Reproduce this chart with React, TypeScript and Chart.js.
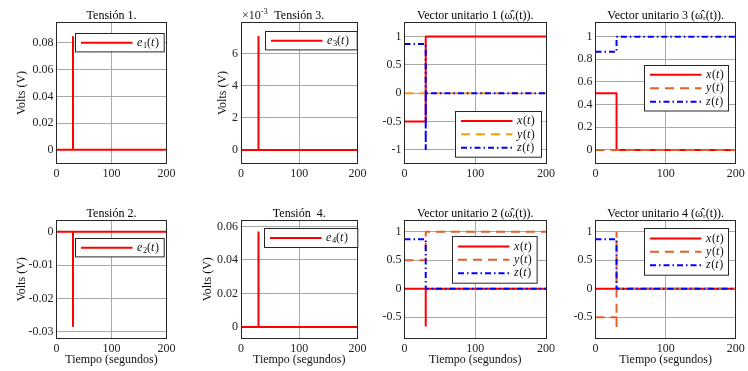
import React, { useEffect, useRef } from "react";
import { Chart, registerables } from "chart.js";

Chart.register(...registerables);

const FONT = '"Liberation Serif", "Times New Roman", serif';
const FIG_W = 748;
const FIG_H = 371;

// ---- data ----
const time = [0, 30, 30, 30, 30, 200];

const e1 = [0, 0, 0.085, 0, 0, 0];
const e2 = [0, 0, -0.0285, 0, 0, 0];
const e3 = [0, 0, 0.0071, 0, 0, 0];
const e4 = [0, 0, 0.057, 0, 0, 0];

const v1x = [-0.5, -0.5, 1, 1, 1, 1];
const v1y = [0, 0, 0, 0, 0, 0];
const v1z = [0.866, 0.866, -1, 0, 0, 0];

const v2x = [0, 0, -0.66, 0, 0, 0];
const v2y = [0.5, 0.5, 1, 1, 1, 1];
const v2z = [0.866, 0.866, 0, 0, 0, 0];

const v3x = [0.5, 0.5, 0, 0, 0, 0];
const v3y = [0, 0, 0, 0, 0, 0];
const v3z = [0.866, 0.866, 1, 1, 1, 1];

const v4x = [0, 0, 0, 0, 0, 0];
const v4y = [-0.5, -0.5, -0.67, 1, 0, 0];
const v4z = [0.866, 0.866, 0, 0, 0, 0];

const titles = [
  "Tensión 1.",
  "Tensión 3.",
  "Vector unitario 1 (\u03C9\u0302\u1D63(t)).",
  "Vector unitario 3 (\u03C9\u0302\u1D63(t)).",
  "Tensión 2.",
  "Tensión  4.",
  "Vector unitario 2 (\u03C9\u0302\u1D63(t)).",
  "Vector unitario 4 (\u03C9\u0302\u1D63(t)).",
];

const yMins = [-0.0102, -0.00085, -1.24, -0.12, -0.032, -0.0068, -0.872, -0.872];
const yMaxs = [0.0952, 0.00795, 1.245, 1.125, 0.0035, 0.0638, 1.204, 1.204];
const ySteps = [0.02, 0.002, 0.5, 0.2, 0.01, 0.02, 0.5, 0.5];

const xMin = 0;
const xMax = 200;
const xStep = 100;

const yLabel = "Volts (V)";
const xLabel = "Tiempo (segundos)";

// ---- styles ----
const RED = "#FF0000";
const ORANGE_LIGHT = "#FF9A10";
const ORANGE_DARK = "#E2602A";
const BLUE = "#0000FF";
const DASH = [9, 6];
const DASHDOT = [6, 3, 1.5, 3];

type Seg = { t: string; i?: boolean; sub?: boolean };
const sym = (s: string, sub?: string): Seg[] => {
  const out: Seg[] = [{ t: s, i: true }];
  if (sub) out.push({ t: sub, sub: true });
  out.push({ t: "(" }, { t: "t", i: true }, { t: ")" });
  return out;
};

type Series = { segs: Seg[]; data: number[]; color: string; dash: number[]; order: number };

const colL = [56.5, 241, 404.5, 595.5];
const colR = [166.5, 357.5, 546, 737];
const rowT = [22.5, 220];
const rowB = [163.5, 338.5];

type PanelCfg = {
  title: string;
  col: number;
  row: number;
  yMin: number;
  yMax: number;
  yStep: number;
  wy: number;
  hx: number;
  yTitle: boolean;
  xTitle: boolean;
  exponent: boolean;
  series: Series[];
  legend: { dx: number; dy: number; w: number; h: number };
};

const vec = (x: number[], y: number[], z: number[], yColor: string): Series[] => [
  { segs: sym("x"), data: x, color: RED, dash: [], order: 3 },
  { segs: sym("y"), data: y, color: yColor, dash: DASH, order: 2 },
  { segs: sym("z"), data: z, color: BLUE, dash: DASHDOT, order: 1 },
];
const single = (d: number[], k: string): Series[] => [
  { segs: sym("e", k), data: d, color: RED, dash: [], order: 1 },
];

const panels: PanelCfg[] = [
  { title: titles[0], col: 0, row: 0, yMin: yMins[0], yMax: yMaxs[0], yStep: ySteps[0], wy: 42, hx: 20, yTitle: true, xTitle: false, exponent: false, series: single(e1, "1"), legend: { dx: 18.8, dy: 10.8, w: 88.7, h: 18.4 } },
  { title: titles[1], col: 1, row: 0, yMin: yMins[1], yMax: yMaxs[1], yStep: ySteps[1], wy: 24.9, hx: 20, yTitle: true, xTitle: false, exponent: true, series: single(e3, "3"), legend: { dx: 24, dy: 9.2, w: 91.7, h: 18.4 } },
  { title: titles[2], col: 2, row: 0, yMin: yMins[2], yMax: yMaxs[2], yStep: ySteps[2], wy: 30, hx: 20, yTitle: false, xTitle: false, exponent: false, series: vec(v1x, v1y, v1z, ORANGE_LIGHT), legend: { dx: 50.8, dy: 88.5, w: 86, h: 45.7 } },
  { title: titles[3], col: 3, row: 0, yMin: yMins[3], yMax: yMaxs[3], yStep: ySteps[3], wy: 30, hx: 20, yTitle: false, xTitle: false, exponent: false, series: vec(v3x, v3y, v3z, ORANGE_DARK), legend: { dx: 48.8, dy: 43.2, w: 84, h: 45.5 } },
  { title: titles[4], col: 0, row: 1, yMin: yMins[4], yMax: yMaxs[4], yStep: ySteps[4], wy: 42, hx: 28.7, yTitle: true, xTitle: true, exponent: false, series: single(e2, "2"), legend: { dx: 18.8, dy: 18.3, w: 88.7, h: 18.4 } },
  { title: titles[5], col: 1, row: 1, yMin: yMins[5], yMax: yMaxs[5], yStep: ySteps[5], wy: 40.2, hx: 28.7, yTitle: true, xTitle: true, exponent: false, series: single(e4, "4"), legend: { dx: 23, dy: 8.3, w: 93.3, h: 19 } },
  { title: titles[6], col: 2, row: 1, yMin: yMins[6], yMax: yMaxs[6], yStep: ySteps[6], wy: 30, hx: 28.7, yTitle: false, xTitle: true, exponent: false, series: vec(v2x, v2y, v2z, ORANGE_DARK), legend: { dx: 48.2, dy: 16.7, w: 84.6, h: 46.7 } },
  { title: titles[7], col: 3, row: 1, yMin: yMins[7], yMax: yMaxs[7], yStep: ySteps[7], wy: 30, hx: 28.7, yTitle: false, xTitle: true, exponent: false, series: vec(v4x, v4y, v4z, ORANGE_DARK), legend: { dx: 48.8, dy: 8.3, w: 84, h: 46.7 } },
];

function drawSegs(ctx: CanvasRenderingContext2D, segs: Seg[], x: number, y: number, size: number) {
  ctx.textAlign = "left";
  ctx.textBaseline = "middle";
  for (const s of segs) {
    const fs = s.sub ? size * 0.7 : size;
    ctx.font = `${s.i ? "italic " : ""}${fs}px ${FONT}`;
    ctx.fillText(s.t, x, y + (s.sub ? size * 0.22 : 0));
    x += ctx.measureText(s.t).width + (s.i ? 0.6 : 0);
  }
}

function makeDecor(cfg: PanelCfg) {
  return {
    id: "decor",
    afterDatasetsDraw(chart: any) {
      const { ctx, chartArea: a } = chart;
      ctx.save();
      // axes box
      const l = Math.floor(a.left) + 0.5;
      const t = Math.floor(a.top) + 0.5;
      const r = Math.floor(a.right) + 0.5;
      const b = Math.floor(a.bottom) + 0.5;
      ctx.strokeStyle = "#262626";
      ctx.lineWidth = 1;
      ctx.setLineDash([]);
      ctx.strokeRect(l, t, r - l, b - t);
      // legend
      const lg = cfg.legend;
      const x0 = Math.floor(a.left + lg.dx) + 0.5;
      const y0 = Math.floor(a.top + lg.dy) + 0.5;
      ctx.fillStyle = "#ffffff";
      ctx.fillRect(x0, y0, lg.w, lg.h);
      ctx.strokeRect(x0, y0, lg.w, lg.h);
      const n = cfg.series.length;
      const rowH = 13.4;
      cfg.series.forEach((s, i) => {
        const cy = y0 + lg.h / 2 + (i - (n - 1) / 2) * rowH;
        ctx.strokeStyle = s.color;
        ctx.lineWidth = 2;
        ctx.setLineDash(s.dash);
        ctx.beginPath();
        ctx.moveTo(x0 + 5.5, cy);
        ctx.lineTo(x0 + 57, cy);
        ctx.stroke();
        ctx.setLineDash([]);
        ctx.fillStyle = "#111";
        drawSegs(ctx, s.segs, x0 + 61.5, cy, 12);
      });
      // exponent label
      if (cfg.exponent) {
        ctx.fillStyle = "#222";
        ctx.textAlign = "left";
        ctx.textBaseline = "middle";
        ctx.font = `12px ${FONT}`;
        const ex = a.left + 1;
        const ey = a.top - 6.5;
        ctx.fillText("\u00D710", ex, ey);
        const w = ctx.measureText("\u00D710").width;
        ctx.font = `8.5px ${FONT}`;
        ctx.fillText("-3", ex + w, ey - 4.5);
      }
      ctx.restore();
    },
  };
}

const fmt = (v: number) => String(Math.round(v * 10000) / 10000);
const fmtExp = (v: number) => String(Math.round(v * 1000));

function Panel({ cfg }: { cfg: PanelCfg }) {
  const ref = useRef<HTMLCanvasElement>(null);
  useEffect(() => {
    const l = colL[cfg.col];
    const r = colR[cfg.col];
    const t = rowT[cfg.row];
    const b = rowB[cfg.row];
    const titleLH = 1.08;
    const titleH = 12 * titleLH;
    const tickFont = { family: FONT, size: 12 };
    const gridCfg = { color: "#a9a9a9", lineWidth: 1, drawTicks: false };
    const chart = new Chart(ref.current as HTMLCanvasElement, {
      type: "line",
      data: {
        datasets: cfg.series.map((s) => ({
          data: time.map((tt, i) => ({ x: tt, y: s.data[i] })),
          borderColor: s.color,
          backgroundColor: s.color,
          borderWidth: 2,
          borderDash: s.dash,
          borderJoinStyle: "bevel",
          pointRadius: 0,
          fill: false,
          tension: 0,
          order: s.order,
        })),
      },
      options: {
        animation: false,
        responsive: false,
        maintainAspectRatio: false,
        events: [],
        layout: {
          autoPadding: false,
          padding: { left: l - cfg.wy, right: FIG_W - r, top: t - titleH, bottom: FIG_H - b - cfg.hx },
        },
        plugins: {
          legend: { display: false },
          tooltip: { enabled: false },
          title: {
            display: true,
            text: cfg.title,
            fullSize: false,
            color: "#000",
            font: { family: FONT, size: 12, weight: "normal", lineHeight: titleLH },
            padding: { top: 0, bottom: 0 },
          },
        },
        scales: {
          x: {
            type: "linear",
            min: xMin,
            max: xMax,
            ticks: { stepSize: xStep, autoSkip: false, maxRotation: 0, padding: 3.2, font: tickFont, color: "#222" },
            grid: gridCfg,
            border: { display: false },
            title: {
              display: cfg.xTitle,
              text: xLabel,
              color: "#111",
              font: { family: FONT, size: 12, lineHeight: 1.2 },
              padding: 0,
            },
            afterFit: (s: any) => {
              s.height = cfg.hx;
            },
          },
          y: {
            type: "linear",
            min: cfg.yMin,
            max: cfg.yMax,
            ticks: {
              stepSize: cfg.yStep,
              includeBounds: false,
              autoSkip: false,
              padding: 3,
              font: tickFont,
              color: "#222",
              callback: (v: any) => (cfg.exponent ? fmtExp(Number(v)) : fmt(Number(v))),
            },
            grid: gridCfg,
            border: { display: false },
            title: {
              display: cfg.yTitle,
              text: yLabel,
              color: "#111",
              font: { family: FONT, size: 12, lineHeight: 1.2 },
              padding: 0,
            },
            afterFit: (s: any) => {
              s.width = cfg.wy;
            },
          },
        },
      } as any,
      plugins: [makeDecor(cfg)],
    });
    return () => chart.destroy();
  }, [cfg]);
  return (
    <canvas
      ref={ref}
      width={FIG_W}
      height={FIG_H}
      style={{ position: "absolute", left: 0, top: 0, width: FIG_W, height: FIG_H }}
    />
  );
}

export default function App() {
  return (
    <div style={{ position: "fixed", left: 0, top: 0, width: FIG_W, height: FIG_H, background: "#fff", overflow: "hidden" }}>
      {panels.map((p, i) => (
        <Panel key={i} cfg={p} />
      ))}
    </div>
  );
}
